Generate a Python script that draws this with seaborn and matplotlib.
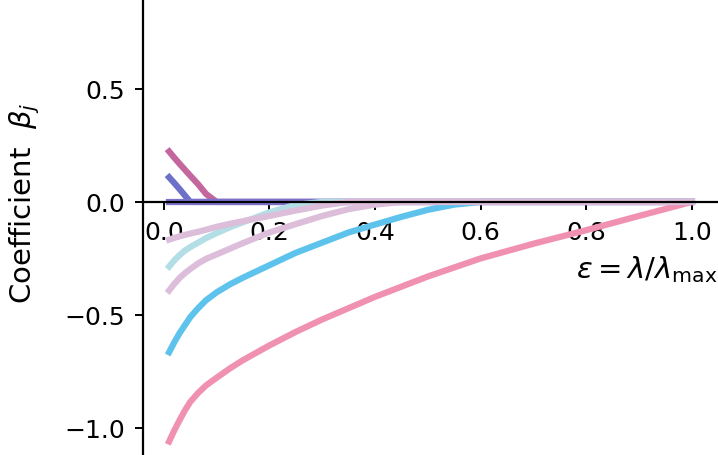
import numpy as np
import pandas as pd
import matplotlib
matplotlib.use("Agg")
import matplotlib.pyplot as plt
import seaborn as sns

# relative regularisation eps = lambda / lambda_max
eps = [0.01, 0.02, 0.03, 0.04, 0.05, 0.065, 0.08, 0.1, 0.125, 0.15, 0.2, 0.25,
       0.3, 0.35, 0.4, 0.45, 0.5, 0.55, 0.6, 0.7, 0.8, 0.9, 1.0]

# coefficient paths
beta_magenta = [0.223, 0.195, 0.168, 0.142, 0.116, 0.078, 0.035, 0, 0, 0, 0, 0,
                0, 0, 0, 0, 0, 0, 0, 0, 0, 0, 0]
beta_indigo = [0.109, 0.083, 0.056, 0.028, 0, 0, 0, 0, 0, 0, 0, 0,
               0, 0, 0, 0, 0, 0, 0, 0, 0, 0, 0]
beta_zero = [0, 0, 0, 0, 0, 0, 0, 0, 0, 0, 0, 0,
             0, 0, 0, 0, 0, 0, 0, 0, 0, 0, 0]
beta_pink = [-1.06, -1.01, -0.965, -0.922, -0.885, -0.845, -0.812, -0.778, -0.737, -0.70, -0.635, -0.575,
             -0.52, -0.47, -0.42, -0.375, -0.33, -0.29, -0.25, -0.185, -0.125, -0.062, 0]
beta_blue = [-0.665, -0.62, -0.58, -0.545, -0.51, -0.47, -0.435, -0.40, -0.365, -0.335, -0.28, -0.225,
             -0.18, -0.135, -0.10, -0.066, -0.035, -0.012, 0, 0, 0, 0, 0]
beta_cyan = [-0.286, -0.258, -0.235, -0.215, -0.20, -0.18, -0.16, -0.138, -0.112, -0.09, -0.046, -0.013,
             0, 0, 0, 0, 0, 0, 0, 0, 0, 0, 0]
beta_thistle_low = [-0.392, -0.362, -0.336, -0.315, -0.297, -0.272, -0.252, -0.232, -0.207, -0.182, -0.135, -0.098,
                    -0.062, -0.032, -0.012, 0, 0, 0, 0, 0, 0, 0, 0]
beta_thistle_up = [-0.167, -0.159, -0.152, -0.146, -0.14, -0.132, -0.123, -0.11, -0.097, -0.085, -0.062, -0.038,
                   -0.016, 0, 0, 0, 0, 0, 0, 0, 0, 0, 0]

paths = {
    "x6": beta_magenta,
    "x7": beta_indigo,
    "x8": beta_zero,
    "x1": beta_pink,
    "x2": beta_blue,
    "x4": beta_cyan,
    "x3": beta_thistle_low,
    "x5": beta_thistle_up,
}
colors = {
    "x6": "#c4679f",
    "x7": "#6c70c8",
    "x8": "#7b72cc",
    "x1": "#f191b1",
    "x2": "#5dc3ec",
    "x4": "#b3dee6",
    "x3": "#dcbedb",
    "x5": "#dcbedb",
}

df = pd.concat(
    [pd.DataFrame({"eps": eps, "beta": v, "feature": k}) for k, v in paths.items()],
    ignore_index=True,
)

plt.rcParams["font.size"] = 18
plt.rcParams["axes.linewidth"] = 1.6

fig = plt.figure(figsize=(7.18, 4.56), dpi=100)
ax = fig.add_axes([143 / 718, 0, 1 - 143 / 718, 1])

sns.lineplot(data=df, x="eps", y="beta", hue="feature", hue_order=list(paths),
             palette=colors, linewidth=4.5, legend=False, sort=False, ax=ax)

ax.set_xlim(-0.0395, 1.0495)
ax.set_ylim(-1.12, 0.898)
ax.set_xticks([0.0, 0.2, 0.4, 0.6, 0.8, 1.0])
ax.set_yticks([-1.0, -0.5, 0.0, 0.5])
ax.tick_params(axis="both", labelsize=18, length=6, width=1.4, pad=7)

ax.spines["top"].set_visible(False)
ax.spines["right"].set_visible(False)
ax.spines["bottom"].set_position(("data", 0))

ax.set_xlabel(r"$\varepsilon = \lambda/\lambda_{\max}$", fontsize=21, ha="right", va="center")
ax.xaxis.set_label_coords(1.0, 0.408)
ax.set_ylabel(r"Coefficient  $\beta_j$", fontsize=21, va="center")
ax.yaxis.set_label_coords(-0.205, 0.555)

fig.savefig("out.png", dpi=100)
